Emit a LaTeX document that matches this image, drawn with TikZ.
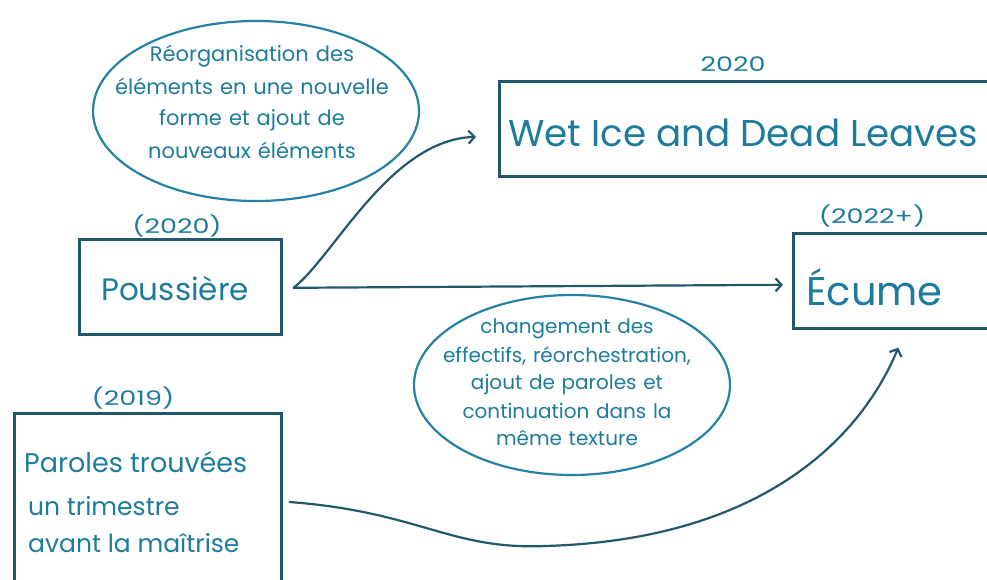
\documentclass[tikz,border=0pt]{standalone}
\usepackage{fontspec}
\setmainfont{Poppins}
\newfontfamily\widehand[FakeStretch=1.35]{Poppins}
\usetikzlibrary{arrows.meta,calc,shapes.geometric}
\definecolor{ink}{HTML}{1D7B9C}
\definecolor{frame}{HTML}{21596B}
\definecolor{loop}{HTML}{2482A3}
\newcommand{\fs}[1]{\fontsize{#1}{#1}\selectfont}
\tikzset{
  box/.style={draw=frame, line width=2.6pt, rectangle, inner sep=0pt, anchor=north west},
  bubble/.style={draw=loop, line width=2.2pt, ellipse, inner sep=0pt},
  txt/.style={text=ink, inner sep=0pt},
  yr/.style={txt, font=\widehand\fs{20}},
  note/.style={txt, align=center},
  conn/.style={draw=frame, line width=2.2pt, line cap=round,
    -{Straight Barb[length=6pt,width=13pt,line width=2.2pt]}}
}
\begin{document}
\begin{tikzpicture}[x=1pt,y=-1pt]
  \useasboundingbox (0,0) rectangle (987,580);
  \clip (0,0) rectangle (987,580);

  % comment bubbles
  \node[bubble, minimum width=326pt, minimum height=180pt] (b1) at (256,111) {};
  \node[note, font=\fs{21}, text width=320pt] (b1t) at (252,102)
    {Réorganisation des\\[10pt] éléments en une nouvelle\\[10pt] forme et ajout de\\[10pt] nouveaux éléments};

  \node[bubble, minimum width=316pt, minimum height=180pt] (b2) at (572,385) {};
  \node[note, font=\fs{20}, text width=310pt] (b2t) at (567,382)
    {changement des\\[7pt] effectifs, réorchestration,\\[7pt] ajout de paroles et\\[7pt] continuation dans la\\[7pt] même texture};

  % work boxes
  \node[box, minimum width=520pt, minimum height=95pt] (wic) at (498,80) {};
  \node[txt, anchor=west, font=\fs{37.3}] (wict) at (508,133) {Wet Ice and Dead Leaves};
  \node[yr] (wicy) at (733,64) {2020};

  \node[box, minimum width=202pt, minimum height=95pt] (pous) at (78,238) {};
  \node[txt, anchor=west, font=\fs{31}] (poust) at (101,289) {Poussière};
  \node[yr] (pousy) at (177,226) {(2020)};

  \node[box, minimum width=230pt, minimum height=95pt] (ecu) at (792,232) {};
  \node[txt, anchor=west, font=\fs{40}] (ecut) at (806,287) {Écume};
  \node[yr] (ecuy) at (872,216) {(2022+)};

  \node[box, minimum width=267pt, minimum height=200pt] (par) at (13,412) {};
  \node[txt, anchor=west, font=\fs{27}] (part1) at (24,462) {Paroles trouvées};
  \node[txt, anchor=west, font=\fs{25}] (part2) at (28,506) {un trimestre};
  \node[txt, anchor=west, font=\fs{25}] (part3) at (28,543) {avant la maîtrise};
  \node[yr] (pary) at (133,398) {(2019)};

  % connectors
  \coordinate (ps) at ($(pous.east)+(11,1)$);
  \coordinate (ms) at ($(par.north east)+(7,90)$);
  \draw[conn] (ps) .. controls (335,255) and (390,140) .. ($(wic.west)+(-22,8)$);
  \draw[conn] (ps) -- ($(ecu.west)+(-9,4)$);
  \draw[conn] (ms) .. controls (420,512) and (450,550) .. (545,546)
    .. controls (760,540) and (860,440) .. ($(ecu.south)+(-10,18)$);
\end{tikzpicture}
\end{document}
